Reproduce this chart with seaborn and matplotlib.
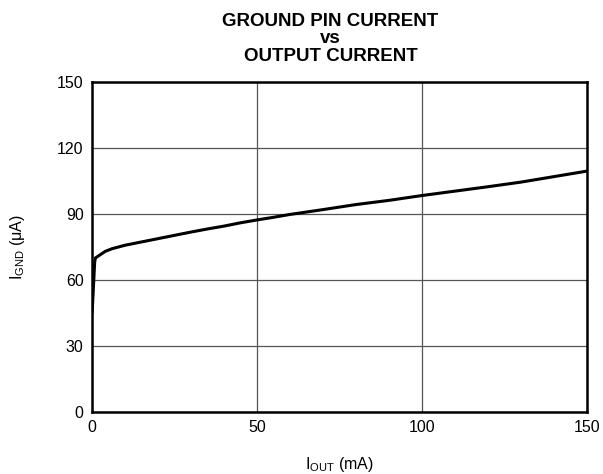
import matplotlib
matplotlib.use("Agg")
import matplotlib.pyplot as plt
import seaborn as sns
import pandas as pd

# curve values (IOUT in mA, IGND in uA)
i_out = [0.0, 0.2, 0.4, 0.6, 0.8, 1.0, 1.5, 2.5, 4, 6, 8, 10, 15, 20, 25, 30, 35, 40,
         45, 50, 55, 60, 70, 80, 90, 100, 110, 120, 130, 140, 150]
i_gnd = [45.0, 50.0, 56.0, 62.0, 68.0, 70.0, 70.5, 71.5, 73.0, 74.2, 75.0, 75.8, 77.3,
         78.8, 80.3, 81.8, 83.2, 84.5, 86.0, 87.3, 88.5, 89.8, 92.0, 94.3, 96.2,
         98.4, 100.4, 102.4, 104.5, 107.0, 109.5]

x_ticks = [0, 50, 100, 150]
y_ticks = [0, 30, 60, 90, 120, 150]

df = pd.DataFrame({"iout": i_out, "ignd": i_gnd})

sns.set_style("white")
plt.rcParams['font.family'] = ['Liberation Sans', 'DejaVu Sans']
plt.rcParams.update({"text.color": "black", "axes.labelcolor": "black",
                     "xtick.color": "black", "ytick.color": "black"})

fig = plt.figure(figsize=(6.03, 4.74), dpi=100)
ax = fig.add_axes([0.1526, 0.1308, 0.8209, 0.6962])

sns.lineplot(data=df, x="iout", y="ignd", ax=ax, color="black", linewidth=2.2,
             estimator=None, sort=False)

ax.set_xlim(0, 150)
ax.set_ylim(0, 150)
ax.set_xticks(x_ticks)
ax.set_yticks(y_ticks)
ax.grid(True, color="#555555", linewidth=0.9)
ax.tick_params(axis="both", length=0, labelsize=11.5, pad=6)
for s in ax.spines.values():
    s.set_color("black")
    s.set_linewidth(1.8)

ax.set_xlabel(r"I$_{\mathregular{OUT}}$ (mA)", fontsize=11.5, labelpad=14)
ax.set_ylabel(r"I$_{\mathregular{GND}}$ ($\mathregular{\mu}$A)", fontsize=11.5, labelpad=22)

title_kw = dict(ha="center", va="center", fontsize=13.5, fontweight="bold")
fig.text(0.548, 0.955, "GROUND PIN CURRENT", **title_kw)
fig.text(0.548, 0.918, "vs", **title_kw)
fig.text(0.548, 0.880, "OUTPUT CURRENT", **title_kw)

fig.savefig("out.png", dpi=100)
